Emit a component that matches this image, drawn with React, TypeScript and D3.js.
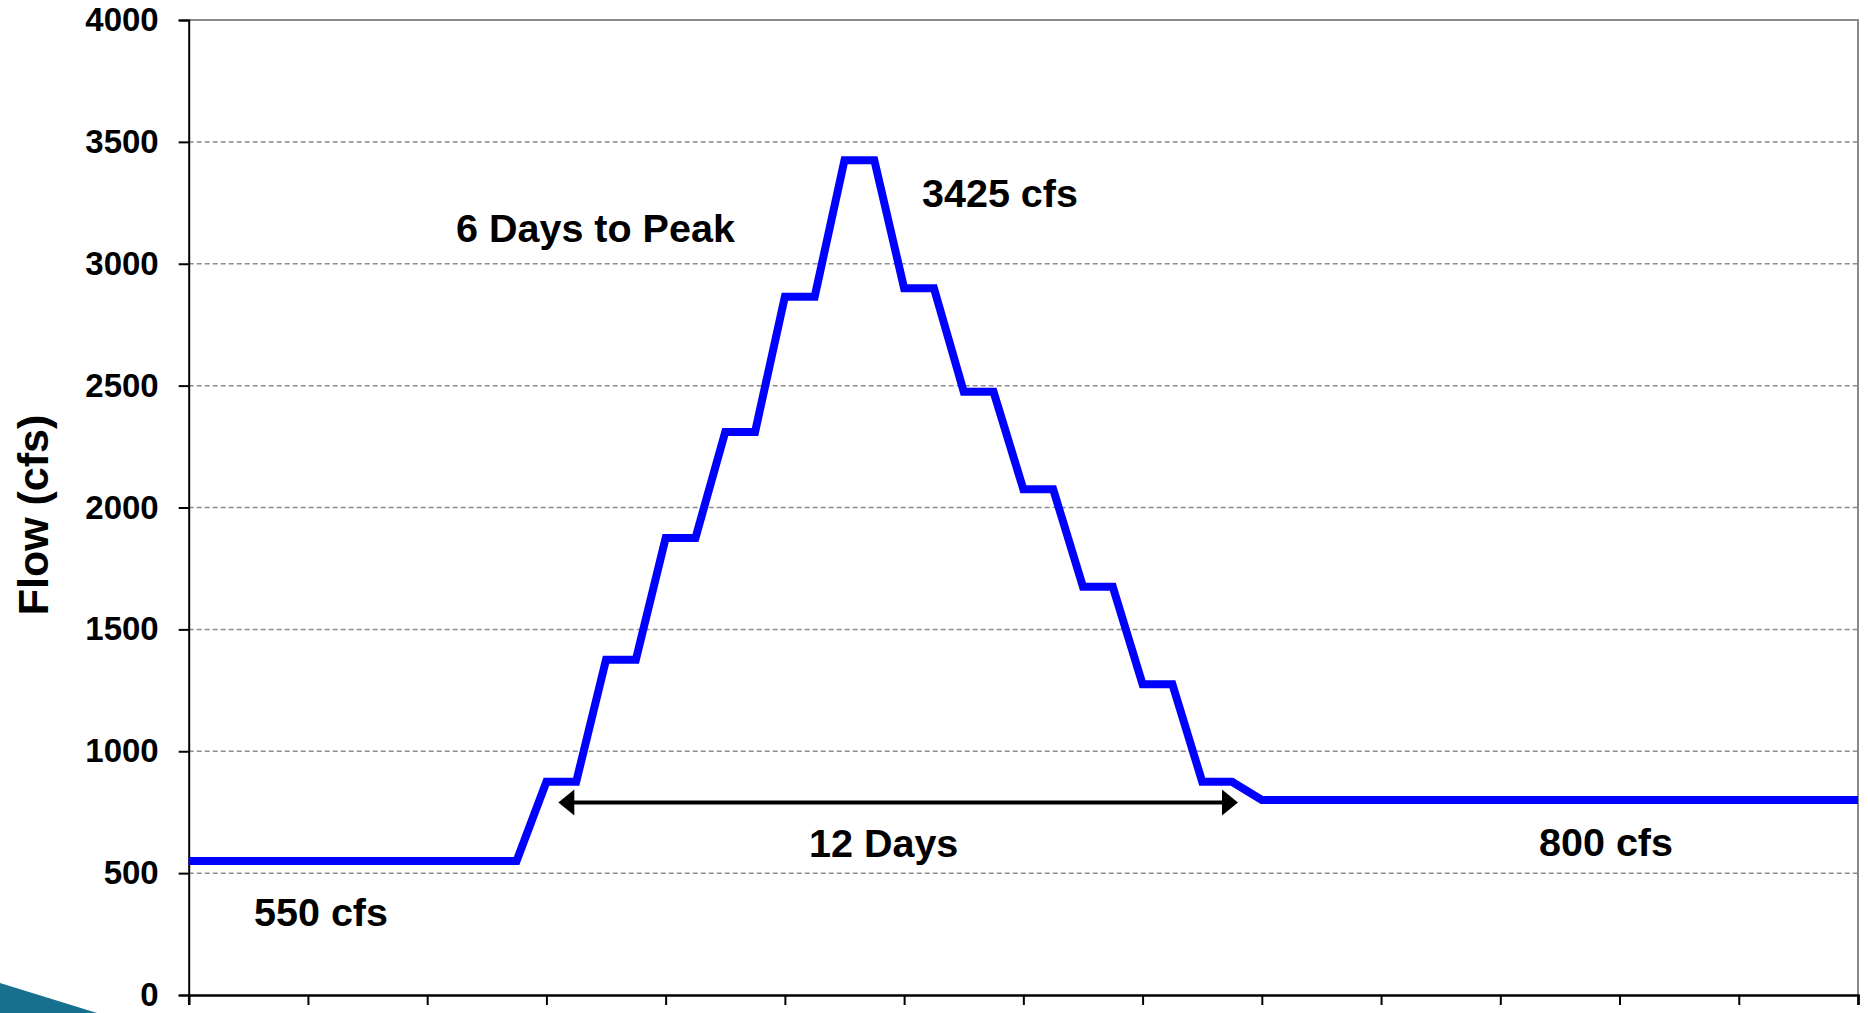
import React, { useEffect, useRef } from "react";
import * as d3 from "d3";

// day number and flow (cfs) at each vertex of the release hydrograph
const days = [
  0, 5.5, 6, 6.5, 7, 7.5, 8, 8.5, 9, 9.5, 10, 10.5, 11, 11.5, 12, 12.5, 13,
  13.5, 14, 14.5, 15, 15.5, 16, 16.5, 17, 17.5, 18, 28,
];
const flows = [
  550, 550, 875, 875, 1375, 1375, 1875, 1875, 2310, 2310, 2865, 2865, 3425,
  3425, 2900, 2900, 2475, 2475, 2075, 2075, 1675, 1675, 1275, 1275, 875, 875,
  800, 800,
];
const yTicks = [0, 500, 1000, 1500, 2000, 2500, 3000, 3500, 4000];
const xTicks = [0, 2, 4, 6, 8, 10, 12, 14, 16, 18, 20, 22, 24, 26, 28];
const arrowSpan = [6.2, 17.6];
const arrowFlow = 790;

const FONT = "'Liberation Sans', Arial, sans-serif";

export default function App() {
  const svgRef = useRef<SVGSVGElement>(null);

  useEffect(() => {
    const svg = d3.select(svgRef.current);
    svg.selectAll("*").remove();

    const left = 188.7;
    const right = 1858;
    const top = 20;
    const bottom = 995;

    const x = d3.scaleLinear().domain([0, 28]).range([left, right]);
    const y = d3.scaleLinear().domain([0, 4000]).range([bottom, top]);

    // decorative corner swoosh from the slide
    svg
      .append("path")
      .attr("d", "M0,983 L97,1013 L0,1013 Z")
      .attr("fill", "#17718e");

    // dashed gridlines
    svg
      .append("g")
      .selectAll("line")
      .data(yTicks.filter((t) => t > 0 && t < 4000))
      .join("line")
      .attr("x1", left)
      .attr("x2", right)
      .attr("y1", (d) => y(d))
      .attr("y2", (d) => y(d))
      .attr("stroke", "#8c8c8c")
      .attr("stroke-width", 1.5)
      .attr("stroke-dasharray", "5,3");

    // plot border top / right
    svg
      .append("path")
      .attr("d", `M${left},${top} H${right} V${bottom}`)
      .attr("fill", "none")
      .attr("stroke", "#8a8a8a")
      .attr("stroke-width", 2);

    // axes
    const yAxis = d3
      .axisLeft(y)
      .tickValues(yTicks)
      .tickSize(10)
      .tickPadding(20)
      .tickFormat((d) => String(d));
    const gy = svg.append("g").attr("transform", `translate(${left},0)`).call(yAxis);
    gy.select(".domain").attr("stroke", "#000").attr("stroke-width", 2);
    gy.selectAll(".tick line").attr("stroke", "#000").attr("stroke-width", 2);
    gy.selectAll(".tick text")
      .attr("font-family", FONT)
      .attr("font-weight", "bold")
      .attr("font-size", 33)
      .attr("fill", "#000");

    const xAxis = d3.axisBottom(x).tickValues(xTicks).tickSize(10).tickFormat(() => "");
    const gx = svg.append("g").attr("transform", `translate(0,${bottom})`).call(xAxis);
    gx.select(".domain").attr("stroke", "#000").attr("stroke-width", 2.5);
    gx.selectAll(".tick line").attr("stroke", "#000").attr("stroke-width", 2);

    // flow line
    const line = d3
      .line<number>()
      .x((d, i) => x(days[i]))
      .y((d) => y(d));
    svg
      .append("path")
      .datum(flows)
      .attr("d", line)
      .attr("fill", "none")
      .attr("stroke", "#0000ff")
      .attr("stroke-width", 8)
      .attr("stroke-linejoin", "miter");

    // 12 day arrow
    const ay = y(arrowFlow);
    const x0 = x(arrowSpan[0]);
    const x1 = x(arrowSpan[1]);
    svg
      .append("line")
      .attr("x1", x0 + 10)
      .attr("x2", x1 - 10)
      .attr("y1", ay)
      .attr("y2", ay)
      .attr("stroke", "#000")
      .attr("stroke-width", 4);
    svg
      .append("path")
      .attr("d", `M${x0},${ay} L${x0 + 16},${ay - 13} L${x0 + 16},${ay + 13} Z`)
      .attr("fill", "#000");
    svg
      .append("path")
      .attr("d", `M${x1},${ay} L${x1 - 16},${ay - 13} L${x1 - 16},${ay + 13} Z`)
      .attr("fill", "#000");

    // annotations
    const labels = [
      { text: "6 Days to Peak", x: 456, y: 242 },
      { text: "3425 cfs", x: 922, y: 207 },
      { text: "550 cfs", x: 254, y: 926 },
      { text: "12 Days", x: 809, y: 857 },
      { text: "800 cfs", x: 1539, y: 856 },
    ];
    svg
      .append("g")
      .selectAll("text")
      .data(labels)
      .join("text")
      .attr("x", (d) => d.x)
      .attr("y", (d) => d.y)
      .attr("font-family", FONT)
      .attr("font-weight", "bold")
      .attr("font-size", 39.5)
      .attr("fill", "#000")
      .text((d) => d.text);

    // y axis title
    svg
      .append("text")
      .attr("transform", "translate(48,515) rotate(-90)")
      .attr("text-anchor", "middle")
      .attr("font-family", FONT)
      .attr("font-weight", "bold")
      .attr("font-size", 43)
      .attr("fill", "#000")
      .text("Flow (cfs)");
  }, []);

  return (
    <svg
      ref={svgRef}
      width={1868}
      height={1013}
      style={{ position: "absolute", left: 0, top: 0, background: "#fff" }}
    />
  );
}
